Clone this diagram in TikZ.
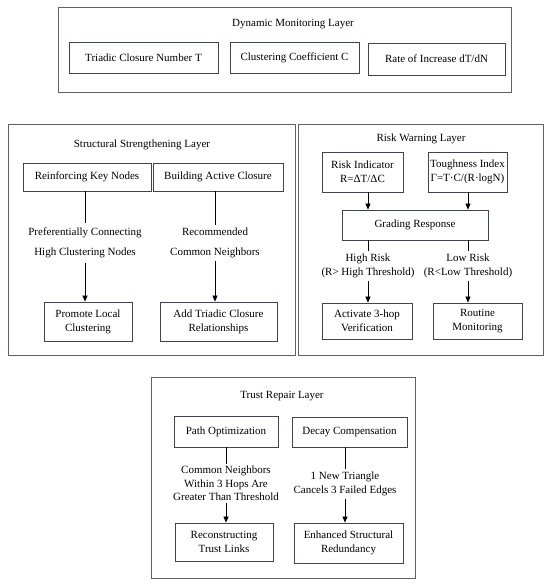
\documentclass[tikz,border=0pt]{standalone}
\usepackage{fontspec}
\setmainfont{Liberation Serif}
\usetikzlibrary{arrows.meta}
\definecolor{framec}{RGB}{92,98,110}
\definecolor{boxc}{RGB}{62,68,80}
\begin{document}
\begin{tikzpicture}[x=1pt,y=-1pt,
 layer/.style={draw=framec,line width=1pt,inner sep=0pt},
 box/.style={draw=boxc,line width=0.8pt,align=center,inner sep=1pt,font=\fontsize{11}{14}\selectfont},
 ttl/.style={inner sep=0pt,font=\fontsize{11}{14}\selectfont},
 lbl/.style={align=center,inner sep=3pt,font=\fontsize{11}{14}\selectfont},
 arr/.style={-{Triangle[length=6pt,width=5pt]},line width=0.7pt,draw=black},
 ln/.style={line width=0.7pt,draw=black}]
\useasboundingbox (0,0) rectangle (550,585);
\fill[white] (0,0) rectangle (550,585);

% Dynamic Monitoring Layer
\node[layer, minimum width=453, minimum height=85] (L1) at (284.5,50.5) {};
\node[ttl] (t1) at (293,24) {Dynamic Monitoring Layer};
\node[box, minimum width=149, minimum height=31] (b11) at (143.5,57.5) {Triadic Closure Number T};
\node[box, minimum width=129, minimum height=31] (b12) at (294.5,57.5) {Clustering Coefficient C};
\node[box, minimum width=137, minimum height=32] (b13) at (436.5,59) {Rate of Increase dT/dN};

% Structural Strengthening Layer
\node[layer, minimum width=287, minimum height=230] (L2) at (151.5,240) {};
\node[ttl] (t2) at (142,145) {Structural Strengthening Layer};
\node[box, minimum width=128, minimum height=28] (s1) at (87,177) {Reinforcing Key Nodes};
\node[box, minimum width=130, minimum height=28] (s2) at (218,177) {Building Active Closure};
\node[box, minimum width=88, minimum height=39] (s3) at (88,321.5) {Promote Local\\Clustering};
\node[box, minimum width=117, minimum height=39] (s4) at (218.5,321.5) {Add Triadic Closure\\Relationships};
\node[lbl, inner sep=5pt, font=\fontsize{11}{20}\selectfont] (sl1) at (85,243) {Preferentially Connecting\\High Clustering Nodes};
\node[lbl, inner sep=3pt, font=\fontsize{11}{20}\selectfont] (sl2) at (215,243) {Recommended\\Common Neighbors};
\draw[ln] (s1.south -| sl1) -- (sl1.north);
\draw[arr] (sl1.south) -- (sl1.south |- s3.north);
\draw[ln] (s2.south -| sl2) -- (sl2.north);
\draw[arr] (sl2.south) -- (sl2.south |- s4.north);

% Risk Warning Layer
\node[layer, minimum width=245, minimum height=230] (L3) at (420.5,240) {};
\node[ttl] (t3) at (421,139) {Risk Warning Layer};
\node[box, minimum width=81, minimum height=40] (r1) at (362.5,172) {Risk Indicator\\R=ΔT/ΔC};
\node[box, minimum width=79, minimum height=40] (r2) at (467.5,172) {Toughness Index\\Γ=T·C/(R·logN)};
\node[box, minimum width=146, minimum height=30] (rg) at (415,225) {Grading Response};
\node[box, minimum width=90, minimum height=36] (r3) at (367,321) {Activate 3-hop\\Verification};
\node[box, minimum width=89, minimum height=36] (r4) at (477.5,321) {Routine\\Monitoring};
\node[lbl] (hr) at (368,266) {High Risk\\(R{\textgreater} High Threshold)};
\node[lbl] (lr) at (468,266) {Low Risk\\(R{\textless}Low Threshold)};
\draw[arr] (r1.south -| hr) -- (rg.north -| hr);
\draw[arr] (r2.south -| lr) -- (rg.north -| lr);
\draw[ln] (rg.south -| hr) -- (hr.north);
\draw[arr] (hr.south) -- (hr.south |- r3.north);
\draw[ln] (rg.south -| lr) -- (lr.north);
\draw[arr] (lr.south) -- (lr.south |- r4.north);

% Trust Repair Layer
\node[layer, minimum width=264, minimum height=201] (L4) at (283,477.5) {};
\node[ttl] (t4) at (282,396) {Trust Repair Layer};
\node[box, minimum width=104, minimum height=31] (p1) at (226,431.5) {Path Optimization};
\node[box, minimum width=115, minimum height=30] (p2) at (349.5,432) {Decay Compensation};
\node[box, minimum width=98, minimum height=38] (p3) at (224,542) {Reconstructing\\Trust Links};
\node[box, minimum width=109, minimum height=40] (p4) at (348.5,543) {Enhanced Structural\\Redundancy};
\node[lbl, inner sep=1.5pt, font=\fontsize{11}{13.5}\selectfont] (tl1) at (226,483.5) {Common Neighbors\\Within 3 Hops Are\\Greater Than Threshold};
\node[lbl, inner sep=3pt] (tl2) at (345,484) {1 New Triangle\\Cancels 3 Failed Edges};
\draw[ln] (p1.south -| tl1) -- (tl1.north);
\draw[arr] (tl1.south) -- (tl1.south |- p3.north);
\draw[ln] (p2.south -| tl2) -- (tl2.north);
\draw[arr] (tl2.south) -- (tl2.south |- p4.north);
\end{tikzpicture}
\end{document}
